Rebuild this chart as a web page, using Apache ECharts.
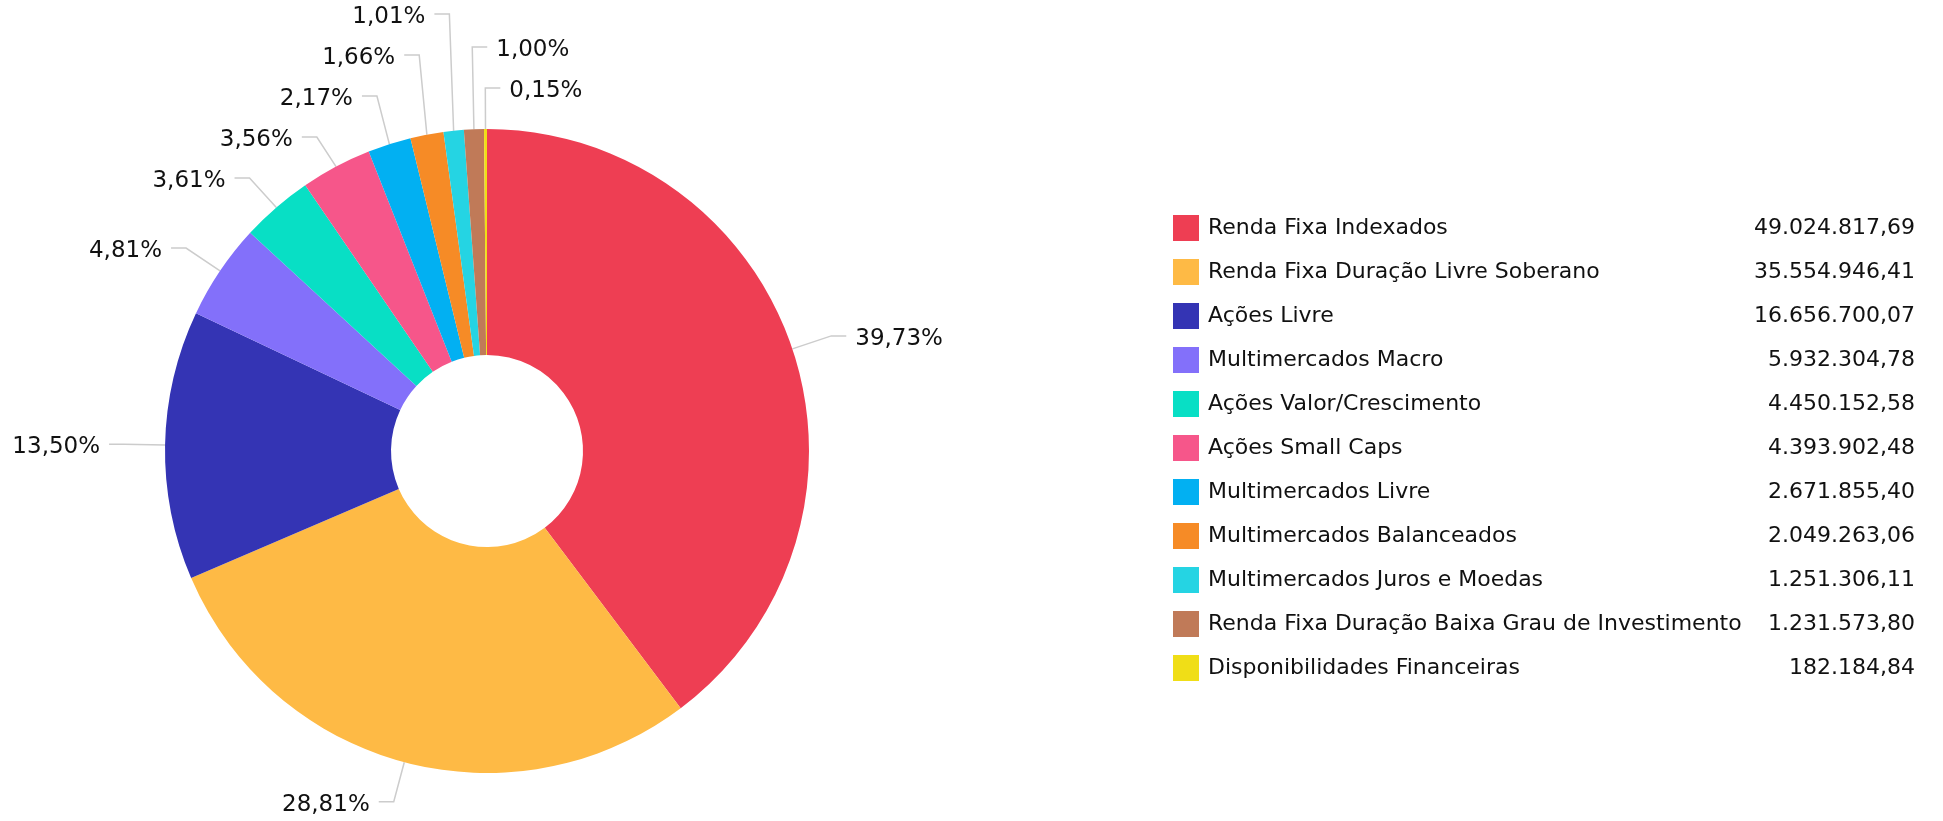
<!DOCTYPE html>
<html>
<head>
<meta charset="utf-8">
<script src="https://cdn.jsdelivr.net/npm/echarts@6/dist/echarts.min.js"></script>
<style>
html,body{margin:0;padding:0;background:#fff;}
#chart{width:1943px;height:821px;}
</style>
</head>
<body>
<div id="chart"></div>
<script>
const categories = [
  'Renda Fixa Indexados',
  'Renda Fixa Duração Livre Soberano',
  'Ações Livre',
  'Multimercados Macro',
  'Ações Valor/Crescimento',
  'Ações Small Caps',
  'Multimercados Livre',
  'Multimercados Balanceados',
  'Multimercados Juros e Moedas',
  'Renda Fixa Duração Baixa Grau de Investimento',
  'Disponibilidades Financeiras'
];
const values = [
  49024817.69, 35554946.41, 16656700.07, 5932304.78, 4450152.58,
  4393902.48, 2671855.40, 2049263.06, 1251306.11, 1231573.80, 182184.84
];
const colors = [
  '#EE3E53', '#FEBA45', '#3434B4', '#8370FA', '#08DFC5',
  '#F6568A', '#02B0F2', '#F68B26', '#25D4E3', '#C07A58', '#F0DE17'
];

const total = values.reduce((a, b) => a + b, 0);
function fmtBR(v) {
  const parts = v.toFixed(2).split('.');
  parts[0] = parts[0].replace(/\B(?=(\d{3})+(?!\d))/g, '.');
  return parts[0] + ',' + parts[1];
}
const valueByName = {};
categories.forEach((c, i) => valueByName[c] = values[i]);

const FONT = '"DejaVu Sans", Verdana, sans-serif';
const CX = 487, CY = 451, R_OUT = 322, R_IN = 96;
const L1 = 41, L2 = 15, GAP = 9, SPACING = 41, TOP_LIMIT = 14, TEXT_DY = 3;

const anchors = {};
let placed = null;

function recordLayout(p) {
  if (p.labelLinePoints && p.labelLinePoints[0]) {
    anchors[p.dataIndex] = p.labelLinePoints[0].slice();
  }
  return {};
}

function computePlacement() {
  const items = [];
  Object.keys(anchors).forEach(k => {
    const a = anchors[k];
    const vx = a[0] - CX, vy = a[1] - CY;
    const len = Math.sqrt(vx * vx + vy * vy);
    const ux = vx / len, uy = vy / len;
    const right = ux > -0.07;
    const bx = CX + (len + L1) * ux;
    const by = CY + (len + L1) * uy;
    const ang = Math.atan2(right ? ux : -ux, -uy);
    items.push({idx: +k, a, ux, uy, right, bx, by, ang, y: by});
  });
  const res = {};
  [true, false].forEach(side => {
    const list = items.filter(it => it.right === side).sort((p, q) => p.ang - q.ang);
    for (let i = list.length - 2; i >= 0; i--) {
      list[i].y = Math.min(list[i].by, list[i + 1].y - SPACING);
    }
    if (list.length && list[0].y < TOP_LIMIT) {
      list[0].y = TOP_LIMIT;
      for (let i = 1; i < list.length; i++) {
        list[i].y = Math.max(list[i].y, list[i - 1].y + SPACING);
      }
    }
    list.forEach(it => { res[it.idx] = it; });
  });
  return res;
}

function finalLayout(p) {
  const it = placed && placed[p.dataIndex];
  if (!it) return {};
  const s = it.right ? 1 : -1;
  const ex = it.bx + s * L2;
  return {
    x: ex + s * GAP,
    y: it.y + TEXT_DY,
    align: it.right ? 'left' : 'right',
    verticalAlign: 'middle',
    hideOverlap: false,
    moveOverlap: null,
    labelLinePoints: [[it.a[0], it.a[1]], [it.bx, it.y], [ex, it.y]]
  };
}

const chart = echarts.init(document.getElementById('chart'), null, {renderer: 'canvas'});
const baseOption = {
  animation: false,
  color: colors,
  textStyle: {fontFamily: FONT},
  legend: {
    orient: 'vertical',
    left: 1173,
    top: 215,
    padding: 0,
    itemWidth: 26,
    itemHeight: 26,
    itemGap: 18,
    icon: 'rect',
    selectedMode: false,
    data: categories,
    formatter: function (name) {
      return '{n|' + name + '}{v|' + fmtBR(valueByName[name]) + '}';
    },
    textStyle: {
      fontFamily: FONT,
      fontSize: 22,
      color: '#111',
      rich: {
        n: {fontFamily: FONT, fontSize: 22, color: '#111', width: 527, padding: [0, 0, 0, 4], lineHeight: 26},
        v: {fontFamily: FONT, fontSize: 22, color: '#111', width: 180, align: 'right', lineHeight: 26}
      }
    }
  },
  series: [{
    type: 'pie',
    center: [CX, CY],
    radius: [R_IN, R_OUT],
    startAngle: 90,
    clockwise: true,
    avoidLabelOverlap: false,
    data: categories.map((c, i) => ({name: c, value: values[i]})),
    itemStyle: {borderWidth: 0},
    label: {
      show: true,
      position: 'outside',
      fontFamily: FONT,
      fontSize: 23,
      color: '#111',
      formatter: function (p) {
        return (p.value / total * 100).toFixed(2).replace('.', ',') + '%';
      }
    },
    labelLine: {
      show: true,
      length: L1,
      length2: L2,
      lineStyle: {color: '#cccccc', width: 1.5}
    },
    labelLayout: recordLayout,
    emphasis: {disabled: true}
  }]
};
chart.setOption(baseOption);
placed = computePlacement();
chart.setOption({series: [{labelLayout: function (p) { return finalLayout(p); }}]});
</script>
</body>
</html>
